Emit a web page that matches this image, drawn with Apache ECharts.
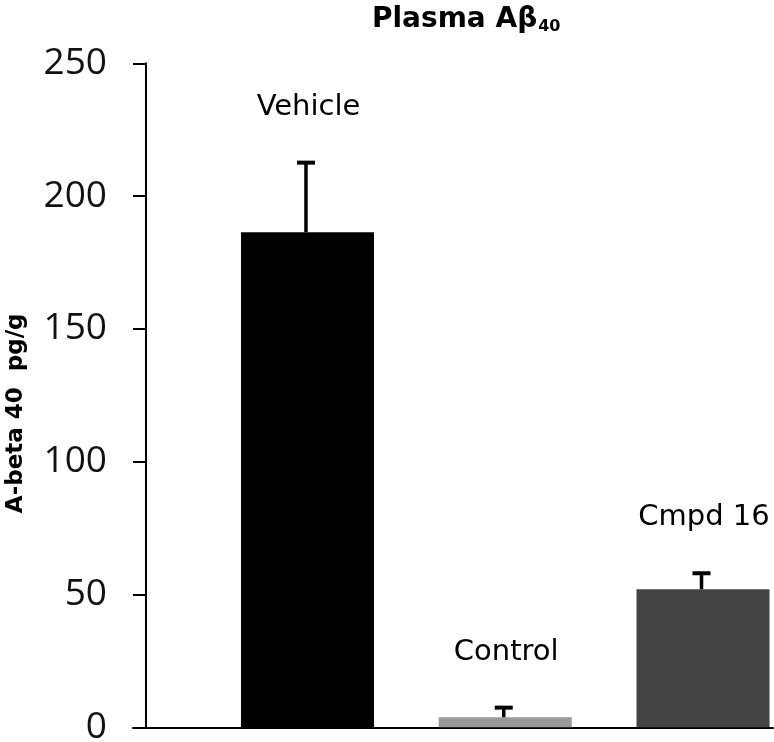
<!DOCTYPE html>
<html>
<head>
<meta charset="utf-8">
<script src="https://cdn.jsdelivr.net/npm/echarts@6/dist/echarts.min.js"></script>
<style>html,body{margin:0;padding:0;background:#fff;}#c{width:774px;height:742px;}</style>
</head>
<body>
<div id="c"></div>
<script>
var categories = ['Vehicle', 'Control', 'Cmpd 16'];
var means = [186.4, 3.8, 52.0];
var errors = [26.2, 3.6, 6.0];
var barColors = ['#000000', '#999999', '#444444'];
var yTicks = [0, 50, 100, 150, 200, 250];

var chart = echarts.init(document.getElementById('c'));
var G_TOP = 63.3, G_BOTTOM = 14.7, G_LEFT = 208.6, G_WIDTH = 593.3;

chart.setOption({
  animation: false,
  backgroundColor: '#fff',
  title: {
    text: 'Plasma A\u03b2{sub|40}',
    left: 367, top: 0,
    textStyle: {
      fontFamily: 'DejaVu Sans', fontWeight: 'bold', fontSize: 28, color: '#000',
      rich: { sub: { fontFamily: 'DejaVu Sans', fontWeight: 'bold', fontSize: 16, color: '#000', verticalAlign: 'bottom', padding: [14, 0, 0, 1] } }
    }
  },
  grid: [
    { left: G_LEFT, top: G_TOP, bottom: G_BOTTOM, width: G_WIDTH, containLabel: false, outerBoundsMode: 'none' },
    { left: 133, right: 1, top: G_TOP, bottom: G_BOTTOM, containLabel: false, outerBoundsMode: 'none' }
  ],
  xAxis: [
    { type: 'category', gridIndex: 0, data: categories, axisLine: { show: false }, axisTick: { show: false }, axisLabel: { show: false } },
    { type: 'value', gridIndex: 1, min: 0, max: 1, axisLine: { show: true, lineStyle: { color: '#000', width: 2 } }, axisTick: { show: false }, axisLabel: { show: false }, splitLine: { show: false } }
  ],
  yAxis: [
    {
      type: 'value', gridIndex: 0, min: yTicks[0], max: yTicks[yTicks.length - 1], interval: 50,
      offset: G_LEFT - 146,
      axisLine: { show: true, lineStyle: { color: '#000', width: 2 } },
      axisTick: { show: true, inside: false, length: 13, lineStyle: { color: '#000', width: 2 } },
      axisLabel: { margin: 39, fontFamily: 'Open Sans', fontSize: 37, color: '#111' },
      splitLine: { show: false },
      name: 'A-beta 40  pg/g', nameLocation: 'middle', nameRotate: 90, nameGap: 118,
      nameTextStyle: { fontFamily: 'DejaVu Sans', fontWeight: 'bold', fontSize: 23, color: '#000', padding: [0, 36, 0, 0] }
    },
    { type: 'value', gridIndex: 1, min: 0, max: 1, show: false }
  ],
  series: [
    {
      type: 'bar', xAxisIndex: 0, yAxisIndex: 0, barWidth: 133,
      data: means.map(function (v, i) { return { value: v, itemStyle: { color: barColors[i] } }; })
    },
    {
      type: 'custom', xAxisIndex: 0, yAxisIndex: 0, z: 5,
      data: means.map(function (v, i) { return [i, v, errors[i]]; }),
      renderItem: function (params, api) {
        var i = api.value(0), m = api.value(1), e = api.value(2);
        var base = api.coord([i, m]);
        var top = api.coord([i, m + e]);
        var x = base[0] - 1.5;
        var cap = 18;
        return {
          type: 'group',
          children: [
            { type: 'line', shape: { x1: x, y1: base[1], x2: x, y2: top[1] }, style: { stroke: '#000', lineWidth: 3.5 } },
            { type: 'line', shape: { x1: x - cap / 2, y1: top[1], x2: x + cap / 2, y2: top[1] }, style: { stroke: '#000', lineWidth: 4 } },
            { type: 'text', x: base[0] + 1, y: top[1] - 41, style: { text: categories[params.dataIndex], font: '29px "DejaVu Sans"', fill: '#000', textAlign: 'center', textVerticalAlign: 'bottom' } }
          ]
        };
      }
    }
  ]
});
</script>
</body>
</html>
